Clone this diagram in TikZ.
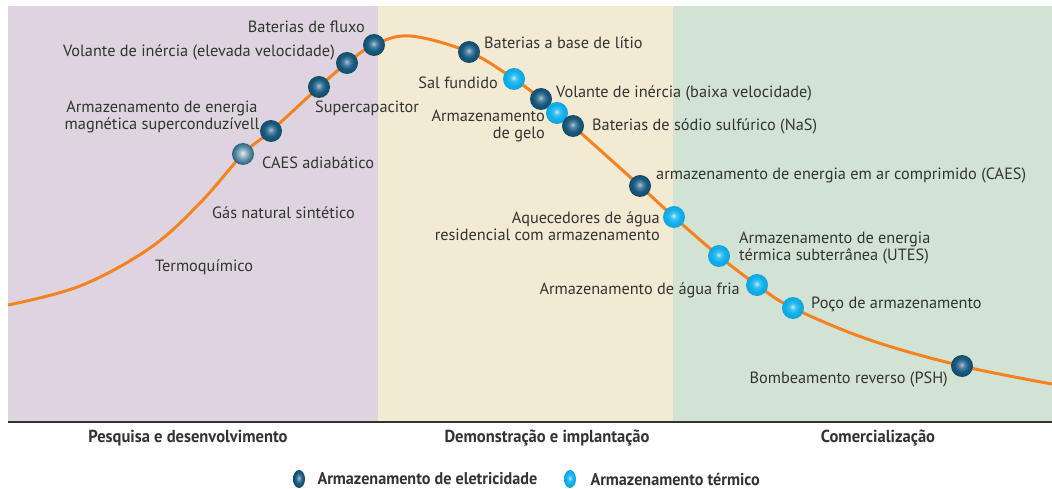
\documentclass[tikz,border=0pt]{standalone}
\usepackage{fontspec}
\usetikzlibrary{shapes.geometric}
\setmainfont{PT Sans}
\newfontfamily\condfont{PT Sans}[FakeStretch=0.95]
\definecolor{rdpurple}{HTML}{DED4DF}
\definecolor{dmbeige}{HTML}{F3EAD4}
\definecolor{cmgreen}{HTML}{D2E3D4}
\definecolor{curveorange}{HTML}{F58220}
\definecolor{elecblue}{HTML}{1A5C82}
\definecolor{thermblue}{HTML}{12B2EE}
\definecolor{adiagray}{HTML}{5D8CA2}
\definecolor{txtgray}{HTML}{333333}

\pgfdeclareradialshading{elecball}{\pgfpoint{-1bp}{3bp}}{color(0bp)=(elecblue!35!white); color(7bp)=(elecblue!75!white); color(15bp)=(elecblue); color(25bp)=(elecblue!80!black); color(50bp)=(elecblue!80!black)}
\pgfdeclareradialshading{thermball}{\pgfpoint{-1bp}{3bp}}{color(0bp)=(thermblue!25!white); color(7bp)=(thermblue!80!white); color(15bp)=(thermblue); color(25bp)=(thermblue!92!black); color(50bp)=(thermblue!92!black)}
\pgfdeclareradialshading{adiaball}{\pgfpoint{-1bp}{2bp}}{color(0bp)=(white!85!adiagray); color(8bp)=(adiagray!60!white); color(16bp)=(adiagray); color(25bp)=(elecblue!85!adiagray); color(50bp)=(elecblue!85!adiagray)}

\begin{document}
\begin{tikzpicture}[x=1pt, y=-1pt,
    elec/.style ={circle, shading=elecball, minimum size=22pt, inner sep=0pt},
    therm/.style={circle, shading=thermball, minimum size=22pt, inner sep=0pt},
    adia/.style ={circle, shading=adiaball, minimum size=22pt, inner sep=0pt},
    lbl/.style  ={font=\fontsize{16.3}{17}\selectfont, text=txtgray, inner sep=1pt},
    phase/.style={font=\condfont\bfseries\fontsize{17.4}{18}\selectfont, text=txtgray},
    legend/.style={font=\condfont\bfseries\fontsize{17}{18}\selectfont, text=txtgray, anchor=west}]

    \useasboundingbox (0,0) rectangle (1052,489);

    % fases
    \fill[rdpurple] (8,6) rectangle (378,422);
    \fill[dmbeige] (378,6) rectangle (673,422);
    \fill[cmgreen] (673,6) rectangle (1052,422);
    \draw[txtgray, line width=1.5pt] (8,422) -- (1052,422);

    % pontos da curva
    \coordinate (c0) at (8,305);
    \coordinate (c1) at (80,286);
    \coordinate (c2) at (150,248);
    \coordinate (c3) at (200,203);
    \coordinate (p1) at (243,154);
    \coordinate (p2) at (271,131);
    \coordinate (p3) at (319,87);
    \coordinate (p4) at (347,63);
    \coordinate (p5) at (374,45);
    \coordinate (c4) at (410,36);
    \coordinate (p6) at (469,52);
    \coordinate (p7) at (514,79);
    \coordinate (p8) at (541,99);
    \coordinate (p9) at (557,113);
    \coordinate (p10) at (573,126);
    \coordinate (p11) at (640,186);
    \coordinate (p12) at (674,217);
    \coordinate (p13) at (719,256);
    \coordinate (p14) at (757,285);
    \coordinate (p15) at (793,308);
    \coordinate (c5) at (870,340);
    \coordinate (p16) at (962,366);
    \coordinate (c6) at (1052,384);

    \draw[curveorange, line width=3pt] plot[smooth, tension=0.6] coordinates {(c0) (c1) (c2) (c3) (p1) (p2) (p3) (p4) (p5) (c4) (p6) (p7) (p8) (p10) (p11) (p12) (p13) (p14) (p15) (c5) (p16) (c6)};

    % esferas
    \node[adia] (caesad) at (p1) {};
    \node[elec] (smes) at (p2) {};
    \node[elec] (supcap) at (p3) {};
    \node[elec] (volalta) at (p4) {};
    \node[elec] (fluxo) at (p5) {};
    \node[elec] (litio) at (p6) {};
    \node[therm] (sal) at (p7) {};
    \node[elec] (volbaixa) at (p8) {};
    \node[therm] (gelo) at (p9) {};
    \node[elec] (nas) at (p10) {};
    \node[elec] (caes) at (p11) {};
    \node[therm] (aquec) at (p12) {};
    \node[therm] (utes) at (p13) {};
    \node[therm] (fria) at (p14) {};
    \node[therm] (poco) at (p15) {};
    \node[elec] (psh) at (p16) {};

    % textos
    \node[lbl, anchor=east] (tfluxo) at (366,27) {Baterias de fluxo};
    \node[lbl, anchor=east] (tvolalta) at (336,52) {Volante de inércia (elevada velocidade)};
    \node[lbl, align=center] (tsmes) at (162,117) {Armazenamento de energia\\magnética superconduzívell};
    \node[lbl, anchor=west] (tsupcap) at (314,108) {Supercapacitor};
    \node[lbl, anchor=west] (tcaesad) at (261,163) {CAES adiabático};
    \node[lbl, anchor=west] (tgas) at (211,213) {Gás natural sintético};
    \node[lbl, anchor=west] (ttermo) at (154,267) {Termoquímico};
    \node[lbl, anchor=west] (tlitio) at (483,43) {Baterias a base de lítio};
    \node[lbl, anchor=east] (tsal) at (499,83) {Sal fundido};
    \node[lbl, anchor=west] (tvolbaixa) at (555,93) {Volante de inércia (baixa velocidade)};
    \node[lbl, anchor=east, align=right] (tgelo) at (546,126) {Armazenamento\\de gelo};
    \node[lbl, anchor=west] (tnas) at (591,126) {Baterias de sódio sulfúrico (NaS)};
    \node[lbl, anchor=west] (tcaes) at (655,175) {armazenamento de energia em ar comprimido (CAES)};
    \node[lbl, anchor=east, align=right] (taquec) at (661,226) {Aquecedores de água\\residencial com armazenamento};
    \node[lbl, anchor=west, align=left] (tutes) at (738,248) {Armazenamento de energia\\térmica subterrânea (UTES)};
    \node[lbl, anchor=east] (tfria) at (741,290) {Armazenamento de água fria};
    \node[lbl, anchor=west] (tpoco) at (810,304) {Poço de armazenamento};
    \node[lbl, anchor=east] (tpsh) at (949,379) {Bombeamento reverso (PSH)};

    % fases e legenda
    \node[phase] (fpd) at (188,438) {Pesquisa e desenvolvimento};
    \node[phase] (fdi) at (547,438) {Demonstração e implantação};
    \node[phase] (fcom) at (878,438) {Comercialização};

    \node[ellipse, shading=elecball, minimum width=12pt, minimum height=18pt, inner sep=0pt] (legelec) at (299,479) {};
    \node[legend] (tlegelec) at (314,479) {Armazenamento de eletricidade};
    \node[ellipse, shading=thermball, minimum width=12pt, minimum height=18pt, inner sep=0pt] (legtherm) at (570,479) {};
    \node[legend] (tlegtherm) at (587,479) {Armazenamento térmico};
\end{tikzpicture}
\end{document}
